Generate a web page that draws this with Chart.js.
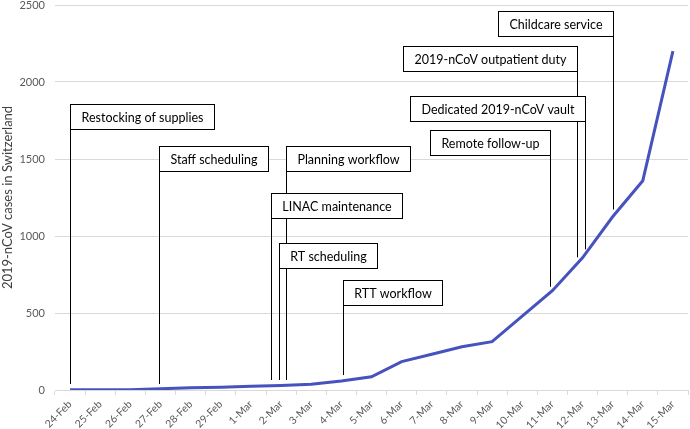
<!DOCTYPE html>
<html>
<head>
<meta charset="utf-8">
<script src="https://cdn.jsdelivr.net/npm/chart.js@4"></script>
<style>
  html, body { margin: 0; padding: 0; background: #fff; }
  #wrap { width: 690px; height: 429px; position: relative; }
</style>
</head>
<body>
<div id="wrap"><canvas id="c" width="690" height="429"></canvas></div>
<script>
const categories = ['24-Feb','25-Feb','26-Feb','27-Feb','28-Feb','29-Feb','1-Mar','2-Mar','3-Mar','4-Mar','5-Mar','6-Mar','7-Mar','8-Mar','9-Mar','10-Mar','11-Mar','12-Mar','13-Mar','14-Mar','15-Mar'];
const cases = [1, 1, 1, 8, 15, 18, 24, 30, 37, 58, 86, 184, 232, 281, 314, 480, 645, 858, 1125, 1359, 2200];
const yTicks = [0, 500, 1000, 1500, 2000, 2500];
const yTitle = '2019-nCoV cases in Switzerland';

// Event annotations: label, anchor on category axis (fractional index), box top value, leader end value, side of box the leader attaches to
const eventLabels = ['Restocking of supplies','Staff scheduling','LINAC maintenance','RT scheduling','Planning workflow','RTT workflow','Remote follow-up','Dedicated 2019-nCoV vault','2019-nCoV outpatient duty','Childcare service'];
const eventX      = [0, 2.96, 6.65, 6.92, 7.17, 9.06, 15.91, 17.08, 16.83, 18.02];
const eventTop    = [1856, 1583, 1276, 956, 1585, 714, 1691, 1909, 2232, 2461];
const eventEnd    = [39, 39, 65, 65, 65, 97, 670, 913, 861, 1172];
const eventSide   = ['left','left','left','left','left','left','right','right','right','right'];

const annotationPlugin = {
  id: 'events',
  afterDatasetsDraw(chart) {
    const { ctx, scales: { x, y } } = chart;
    ctx.save();
    ctx.font = '12.5px Lato';
    ctx.strokeStyle = '#000';
    ctx.lineWidth = 1;
    const boxH = 25, pad = 11;
    const boxes = eventLabels.map((lab, i) => {
      const px = Math.round(x.getPixelForValue(eventX[i])) + 0.5;
      const top = Math.round(y.getPixelForValue(eventTop[i])) + 0.5;
      const end = y.getPixelForValue(eventEnd[i]);
      const w = Math.round(ctx.measureText(lab).width + 2 * pad);
      const left = eventSide[i] === 'left' ? px : px - w;
      return { lab, px, top, end, w, left };
    });
    boxes.forEach(b => {
      ctx.beginPath();
      ctx.moveTo(b.px, b.top);
      ctx.lineTo(b.px, b.end);
      ctx.stroke();
    });
    boxes.forEach(b => {
      ctx.fillStyle = '#fff';
      ctx.fillRect(b.left, b.top, b.w, boxH);
      ctx.strokeRect(b.left, b.top, b.w, boxH);
      ctx.fillStyle = '#000';
      ctx.textAlign = 'center';
      ctx.textBaseline = 'middle';
      ctx.fillText(b.lab, b.left + b.w / 2, b.top + boxH / 2 + 1);
    });
    ctx.restore();
  }
};

new Chart(document.getElementById('c'), {
  type: 'line',
  data: {
    labels: categories,
    datasets: [{
      data: cases,
      borderColor: '#4652BE',
      borderWidth: 3,
      pointRadius: 0,
      tension: 0,
      fill: false
    }]
  },
  options: {
    responsive: false,
    animation: false,
    layout: { padding: { top: 5, right: 2, left: 0, bottom: 0 } },
    plugins: { legend: { display: false }, tooltip: { enabled: false } },
    scales: {
      x: {
        offset: true,
        grid: { offset: true, drawOnChartArea: false, drawTicks: true, tickLength: 5, color: '#d9d9d9' },
        border: { display: true, color: '#d9d9d9', width: 1 },
        ticks: { color: '#595959', font: { family: 'Lato', size: 10.5 }, minRotation: 45, maxRotation: 45, autoSkip: false, padding: 3 },
        afterFit(scale) { scale.height = 39; scale.paddingLeft = 0; scale.paddingRight = 0; }
      },
      y: {
        min: 0, max: 2500,
        afterBuildTicks(scale) { scale.ticks = yTicks.map(v => ({ value: v })); },
        grid: { color: '#d9d9d9', drawTicks: false },
        border: { display: false },
        ticks: { color: '#595959', font: { family: 'Lato', size: 11 }, padding: 10, callback: v => String(v) },
        title: { display: true, text: yTitle, color: '#404040', font: { family: 'Lato', size: 13 }, padding: 0 },
        afterFit(scale) { scale.width = 55; scale.paddingTop = 0; scale.paddingBottom = 0; }
      }
    }
  },
  plugins: [annotationPlugin]
});
</script>
</body>
</html>
